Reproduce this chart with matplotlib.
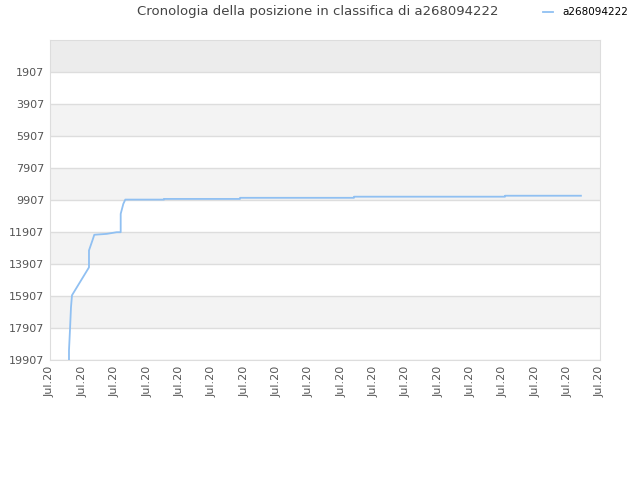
import matplotlib
matplotlib.use("Agg")
import matplotlib.pyplot as plt
import numpy as np

# ranking history (x = position along the date axis, in tick units)
player = "a268094222"
x_pos = [0.587, 0.587, 0.618, 0.649, 0.680, 1.205, 1.205, 1.329, 1.369,
         1.753, 2.062, 2.185, 2.185, 2.266, 2.327, 3.524, 3.524, 5.873,
         5.873, 9.396, 9.396, 14.064, 14.064, 16.41]
rank = [19907, 19300, 18000, 16600, 15860, 14116, 13058, 12329, 12080,
        12024, 11920, 11920, 10773, 10150, 9882, 9882, 9840, 9840,
        9770, 9770, 9700, 9700, 9640, 9640]
y_ticks = [1907, 3907, 5907, 7907, 9907, 11907, 13907, 15907, 17907, 19907]
x_labels = ["Jul.20"] * 18

fig = plt.figure(figsize=(6.4, 4.8), dpi=100)
ax = fig.add_axes([50 / 640, 1 - 360 / 480, 550 / 640, 320 / 480])

# alternating background bands
edges = [-93] + y_ticks
for i in range(len(edges) - 1):
    if i == 0:
        c = "#ececec"
    elif i % 2 == 0:
        c = "#f3f3f3"
    else:
        c = "#ffffff"
    ax.axhspan(edges[i], edges[i + 1], color=c, zorder=0, lw=0)
for t in y_ticks:
    ax.axhline(t, color="#dddddd", lw=1, zorder=1)

ax.plot(x_pos, rank, color="#90c0f2", lw=1.3, zorder=3, label=player)

ax.set_ylim(19907, -93)
ax.set_xlim(0, 17)
ax.set_yticks(y_ticks)
ax.set_yticklabels([str(t) for t in y_ticks])
ax.set_xticks(np.arange(len(x_labels)))
ax.set_xticklabels(x_labels, rotation=90)
ax.tick_params(axis="both", length=0, labelsize=8, colors="#555555", pad=4)
for s in ax.spines.values():
    s.set_color("#dddddd")

fig.text(0.497, 0.975, "Cronologia della posizione in classifica di " + player,
         ha="center", va="center", fontsize=9.5, color="#444444")
fig.legend(loc="center", bbox_to_anchor=(0.915, 0.974), frameon=False,
           fontsize=7.5, handlelength=1.0, handletextpad=0.9)

fig.savefig("out.png")
